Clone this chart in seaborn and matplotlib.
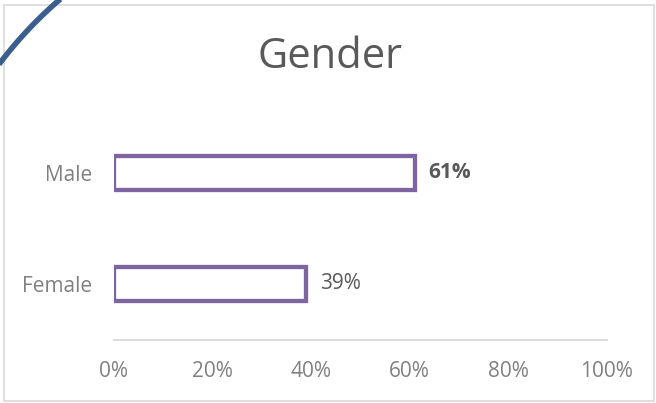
import numpy as np
import pandas as pd
import seaborn as sns
import matplotlib.pyplot as plt
from matplotlib.lines import Line2D
from matplotlib.patches import Rectangle
from matplotlib.ticker import PercentFormatter

categories = ["Male", "Female"]
shares = [0.61, 0.39]
share_labels = ["61%", "39%"]
tick_values = [0, 0.2, 0.4, 0.6, 0.8, 1.0]

sns.set_style("white")
plt.rcParams["font.family"] = ["Open Sans", "DejaVu Sans"]

W, H = 656, 403
fig = plt.figure(figsize=(W / 100, H / 100), dpi=100)
fig.patch.set_facecolor("white")

# light grey chart frame
fig.patches.append(Rectangle((4 / W, (H - 400.5) / H), 650 / W, 395.5 / H,
                             transform=fig.transFigure, fill=False,
                             edgecolor="#d9d9d9", linewidth=1.2, zorder=1))

# blue arc cutting the top-left corner
cx, cy, r = 326, H - 310, 409
theta = np.radians(np.linspace(118, 160, 200))
fig.add_artist(Line2D((cx + r * np.cos(theta)) / W, (cy + r * np.sin(theta)) / H,
                      transform=fig.transFigure, color="#3a5f8f", linewidth=4.0,
                      solid_capstyle="butt", zorder=5))

ax = fig.add_axes([114 / W, (H - 339.5) / H, 493 / W, 222.2 / H])
df = pd.DataFrame({"Gender": categories, "Share": shares})
sns.barplot(data=df, x="Share", y="Gender", orient="h", color="white",
            edgecolor="#8064a2", linewidth=3.1, width=0.31, ax=ax)

ax.set_xlim(0, 1)
ax.set_ylim(1.5, -0.5)
ax.set_xticks(tick_values)
ax.xaxis.set_major_formatter(PercentFormatter(1.0, decimals=0))
ax.set_xlabel("")
ax.set_ylabel("")
ax.tick_params(axis="x", length=0, pad=15.5, labelsize=15, labelcolor="#808080")
ax.tick_params(axis="y", length=0, pad=16, labelsize=15, labelcolor="#808080")
for s in ["left", "right", "top"]:
    ax.spines[s].set_visible(False)
ax.spines["bottom"].set_color("#d9d9d9")
ax.spines["bottom"].set_linewidth(1.3)

texts = ax.bar_label(ax.containers[0], labels=share_labels, padding=10,
                     fontsize=15, color="#595959")
texts[0].set_fontweight("bold")

fig.text(330 / W, (H - 68) / H, "Gender", ha="center", va="baseline",
         fontsize=30, color="#595959")

fig.savefig("out.png", dpi=100)
